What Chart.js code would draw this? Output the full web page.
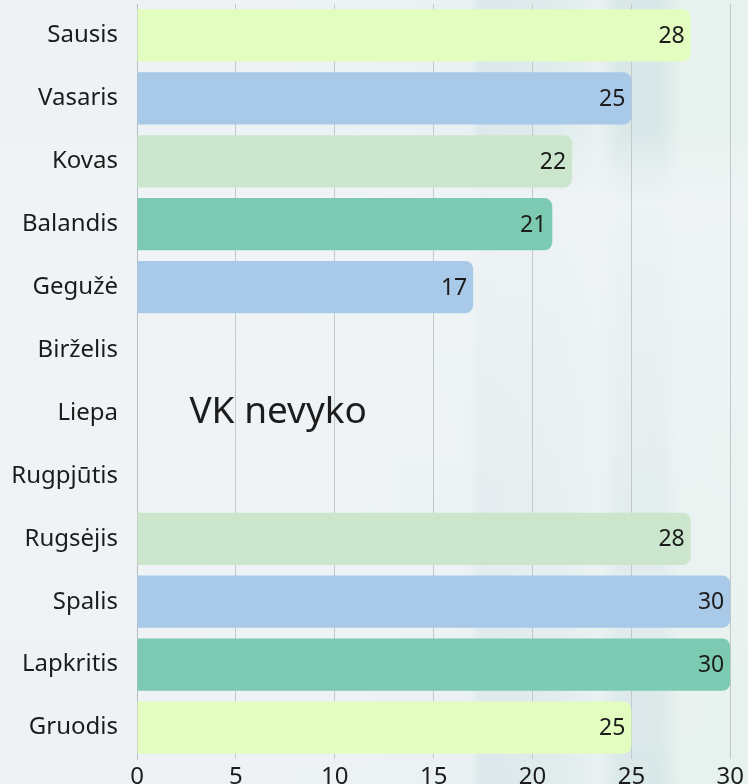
<!DOCTYPE html>
<html>
<head>
<meta charset="utf-8">
<script src="https://cdn.jsdelivr.net/npm/chart.js@4.4.1/dist/chart.umd.min.js"></script>
<style>
html, body { margin: 0; padding: 0; width: 748px; height: 784px; overflow: hidden; }
body {
    background:
        linear-gradient(180deg, rgba(255,255,255,0) 0px, rgba(255,255,255,0) 130px, rgba(240,244,246,0.9) 200px, rgba(240,244,246,0) 784px),
        linear-gradient(90deg, rgba(255,255,255,0) 0px, rgba(255,255,255,0) 470px, rgba(205,222,228,0.5) 480px, rgba(205,222,228,0.3) 560px, rgba(255,255,255,0) 600px, rgba(200,220,225,0.45) 620px, rgba(200,220,225,0.45) 660px, rgba(255,255,255,0) 680px),
        linear-gradient(90deg, #eef2f5 0%, #edf2f5 40%, #e9f1f1 75%, #e6f2ed 100%);
}
canvas { display: block; }
</style>
</head>
<body>
<canvas id="chart" width="748" height="800"></canvas>
<script>
const months = ['Sausis', 'Vasaris', 'Kovas', 'Balandis', 'Gegužė', 'Birželis', 'Liepa', 'Rugpjūtis', 'Rugsėjis', 'Spalis', 'Lapkritis', 'Gruodis']
const days = [28, 25, 22, 21, 17, null, null, null, 28, 30, 30, 25]
const barColors = ['#e3fcc0', '#a8c9e7', '#cbe6cc', '#7dcab2', '#a8c9e7', '#e3fcc0', '#e3fcc0', '#e3fcc0', '#cbe6cc', '#a8c9e7', '#7dcab2', '#e3fcc0']
const xMax = 30
const xStep = 5
const note = { text: 'VK nevyko', x: 2.65, row: 6 }

const FONT = '"Noto Sans", sans-serif'
const TEXT = '#1c1c1c'

// value labels at the end of each bar
const valueLabels = {
    id: 'valueLabels',
    afterDatasetsDraw(chart) {
        const { ctx } = chart
        const meta = chart.getDatasetMeta(0)
        ctx.save()
        ctx.font = '23px ' + FONT
        ctx.fillStyle = TEXT
        ctx.textAlign = 'right'
        ctx.textBaseline = 'middle'
        meta.data.forEach((bar, i) => {
            const v = days[i]
            if (v == null) return
            ctx.fillText(String(v), bar.x - 6, bar.y + 1)
        })
        ctx.restore()
    }
}

// note for the months without data
const notePlugin = {
    id: 'note',
    afterDatasetsDraw(chart) {
        const { ctx, scales } = chart
        ctx.save()
        ctx.font = '37px ' + FONT
        ctx.fillStyle = TEXT
        ctx.textAlign = 'left'
        ctx.textBaseline = 'middle'
        ctx.fillText(note.text, scales.x.getPixelForValue(note.x), scales.y.getPixelForValue(note.row) - 1)
        ctx.restore()
    }
}

new Chart(document.getElementById('chart'), {
    type: 'bar',
    data: {
        labels: months,
        datasets: [
            {
                data: days,
                backgroundColor: barColors,
                borderWidth: 0,
                borderRadius: 8,
                borderSkipped: 'start',
                barPercentage: 0.83,
                categoryPercentage: 1
            }
        ]
    },
    options: {
        indexAxis: 'y',
        animation: false,
        responsive: false,
        layout: {
            padding: { top: 4, right: 16, left: 0, bottom: 0 }
        },
        scales: {
            x: {
                min: 0,
                max: xMax,
                ticks: {
                    stepSize: xStep,
                    padding: 4,
                    color: TEXT,
                    font: { family: FONT, size: 24 }
                },
                grid: {
                    color: '#c3c8cb',
                    lineWidth: 1,
                    drawTicks: false
                },
                border: { display: false },
                afterFit(scale) { scale.height = 41 }
            },
            y: {
                ticks: {
                    padding: 19,
                    color: TEXT,
                    font: { family: FONT, size: 24 }
                },
                grid: { display: false, drawTicks: false },
                border: { display: true, color: '#b8bdc0', width: 1 },
                afterFit(scale) {
                    scale.width = 137
                    scale.paddingTop = 0
                    scale.paddingBottom = 0
                }
            }
        },
        plugins: {
            legend: { display: false },
            tooltip: { enabled: false }
        }
    },
    plugins: [valueLabels, notePlugin]
})
</script>
</body>
</html>
